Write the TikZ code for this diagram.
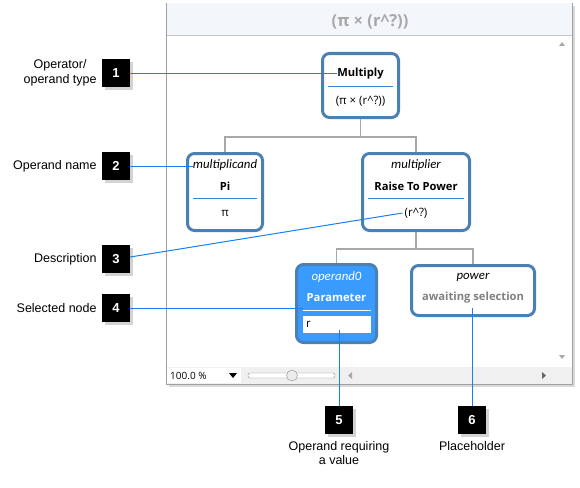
\documentclass[tikz,border=0pt]{standalone}
\usepackage{fontspec}
\setmainfont{Liberation Sans}
\newfontfamily\uifont{Open Sans}
\newfontfamily\namefont{Carlito}
\usetikzlibrary{positioning,shadows,calc}
\definecolor{nodeblue}{HTML}{4A80B4}
\definecolor{callblue}{HTML}{1A80F0}
\definecolor{selblue}{HTML}{3A9BFF}
\definecolor{treegray}{HTML}{A8A8A8}
\definecolor{sepblue}{HTML}{3A86D0}
\definecolor{titlegray}{HTML}{A8A8A8}
\definecolor{titlebg}{HTML}{F3F6FB}
\definecolor{framegray}{HTML}{A0A0A0}
\definecolor{waitgray}{HTML}{808080}
\begin{document}
\begin{tikzpicture}[x=1pt,y=-1pt,
    opbox/.style={draw=nodeblue, line width=3pt, rounded corners=7pt, fill=white, inner sep=0pt},
    selbox/.style={opbox, fill=selblue},
    uitext/.style={font=\uifont\fontsize{11.5}{13}\selectfont, inner sep=0pt},
    uibold/.style={font=\uifont\fontsize{11.2}{13}\selectfont\bfseries, inner sep=0pt},
    uiname/.style={font=\namefont\fontsize{12.8}{14}\selectfont\itshape, inner sep=0pt},
    treeline/.style={draw=treegray, line width=1.5pt},
    sepline/.style={draw=sepblue, line width=1pt},
    callout/.style={fill=black, text=white, minimum size=28pt, inner sep=0pt,
        font=\bfseries\fontsize{13}{15}\selectfont, drop shadow={opacity=0.35}},
    lbl/.style={font=\fontsize{12.5}{14.5}\selectfont, align=center, inner sep=0pt},
    callline/.style={draw=callblue, line width=1pt}]
    \useasboundingbox (0,0) rectangle (580,487);
    % window
    \path[draw=framegray, fill=white, drop shadow={opacity=0.3}] (166,3) rectangle (572,384);
    \fill[titlebg] (166.5,3.5) rectangle (571.5,35);
    \draw[draw=framegray!60] (166.5,35) -- (571.5,35);
    \node[font=\uifont\fontsize{16.5}{18}\selectfont\bfseries, text=titlegray] (title) at (370,21.5) {(π × (r\^{}?))};
    \fill[treegray] (559,46) -- (565,46) -- (562,42) -- cycle;
    \fill[treegray] (559,355) -- (565,355) -- (562,359) -- cycle;
    \fill[black!6] (166.5,367) rectangle (571.5,383.5);
    \fill[white] (167,368) rectangle (241,383);
    \node[uitext, anchor=west, font=\uifont\fontsize{10}{11}\selectfont] (zoom) at (170,375.5) {100.0 \%};
    \fill[black] (229,373) -- (237,373) -- (233,378) -- cycle;
    \draw[draw=black!45, fill=white, rounded corners=2pt] (248,373) rectangle (335,378);
    \draw[draw=black!45, fill=black!8] (292,375.5) circle (5.5);
    \fill[treegray] (352,372) -- (352,379) -- (348,375.5) -- cycle;
    \fill[black!60] (542,372) -- (542,379) -- (546,375.5) -- cycle;
    % tree nodes
    \node[opbox, minimum width=76pt, minimum height=64pt] (mult) at (360.5,85.5) {};
    \node[opbox, minimum width=75pt, minimum height=77pt] (pi) at (225,192) {};
    \node[opbox, minimum width=107pt, minimum height=77pt] (raise) at (416,192) {};
    \node[selbox, minimum width=80pt, minimum height=78pt] (param) at (336.5,303.5) {};
    \node[opbox, minimum width=123pt, minimum height=50pt] (power) at (473,290.5) {};
    \draw[treeline] (mult.south) -- ++(0,18) -| (pi.north);
    \draw[treeline] (mult.south) ++(0,18) -| (raise.north);
    \draw[treeline] (raise.south) -- ++(0,17) -| (param.north);
    \draw[treeline] (raise.south) ++(0,17) -| (power.north);
    % texts in nodes
    \node[uibold] (multtxt) at (360.5,74) {Multiply};
    \draw[sepline] (328,86.5) -- (393,86.5);
    \node[uitext] (multdesc) at (360.5,101) {(π × (r\^{}?))};
    \node[uiname] (mcand) at (225,165) {multiplicand};
    \node[uibold] (pitxt) at (225,186) {Pi};
    \draw[sepline] (193,198.5) -- (257,198.5);
    \node[uitext] (pidesc) at (225,213) {π};
    \node[uiname] (mplier) at (416,165) {multiplier};
    \node[uibold] (raisetxt) at (416,186) {Raise To Power};
    \draw[sepline] (368,198.5) -- (464,198.5);
    \node[uitext] (rdesc) at (416,213) {(r\^{}?)};
    \node[uiname, text=white] (op0) at (336.5,277) {operand0};
    \node[uibold, text=white] (partxt) at (336.5,298) {Parameter};
    \draw[draw=white, line width=1pt] (303,310.5) -- (371,310.5);
    \fill[white] (303,315.5) rectangle (371,333);
    \node[uitext, anchor=west] (rval) at (306,324.5) {r};
    \node[uiname] (pw) at (473,277) {power};
    \node[uibold, text=waitgray] (waiting) at (473,298) {awaiting selection};
    \coordinate (parsep) at (303,308);
    \coordinate (rfield) at (339,330);
    \coordinate (waitend) at (472,308);
    % callouts
    \node[callout] (c1) at (116,73) {1};
    \node[callout] (c2) at (116,166) {2};
    \node[callout] (c3) at (116,259) {3};
    \node[callout] (c4) at (116,308) {4};
    \node[callout] (c5) at (339,420) {5};
    \node[callout] (c6) at (472,420) {6};
    \node[lbl, left=5pt of c1] (l1) {Operator/\\operand type};
    \node[lbl, left=5pt of c2] (l2) {Operand name};
    \node[lbl, left=5pt of c3] (l3) {Description};
    \node[lbl, left=5pt of c4] (l4) {Selected node};
    \node[lbl, below=7pt of c5] (l5) {Operand requiring\\a value};
    \node[lbl, below=7pt of c6] (l6) {Placeholder};
    \draw[callline] (c1.east) -- (c1.east -| multtxt.west);
    \draw[callline] (c2.east) -- (c2.east -| mcand.west);
    \draw[callline] ($(c3.east)+(0,-2)$) -- ($(rdesc.west)+(-2,0)$);
    \draw[callline] (c4.east) -- (parsep);
    \draw[callline] (c5.north) -- (rfield);
    \draw[callline] (c6.north) -- (waitend);
\end{tikzpicture}
\end{document}
